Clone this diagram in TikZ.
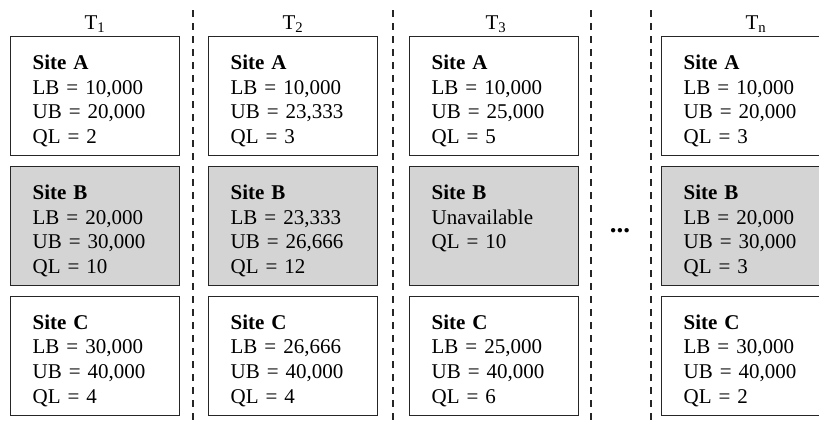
\documentclass[tikz,border=0pt]{standalone}
\usepackage{fontspec}
\setmainfont{Liberation Serif}
\usepackage{tikz}
\usetikzlibrary{positioning}
\newcommand{\sitefont}{\fontsize{21}{24.6}\selectfont}
\tikzstyle{site}  = [draw=black!85, line width=1.3pt, minimum width=169pt, text width=125pt, inner xsep=22pt, inner ysep=12pt, text height=21pt, text depth=74pt, align=left, font=\sitefont]
\tikzstyle{busy}  = [site, fill=black!17]
\tikzstyle{slot}  = [anchor=base, font=\sitefont]
\tikzstyle{sep}   = [draw=black!85, line width=1.1pt, dash pattern=on 7pt off 6pt]

\begin{document}
\begin{tikzpicture}[x=1pt,y=-1pt,node distance=9.5pt]
		\clip (0,0) rectangle (819,421);
		% time slots
		\node[slot] (t1) at (95,29) {T\textsubscript{1}};
		\node[slot] (t2) at (293,29) {T\textsubscript{2}};
		\node[slot] (t3) at (496,29) {T\textsubscript{3}};
		\node[slot] (tn) at (756,29) {T\textsubscript{n}};
		% T1
		\node[site, anchor=north west] (a1) at (10,36) {\textbf{Site A}\\ LB = 10,000\\ UB = 20,000\\ QL = 2};
		\node[busy, below=of a1] (b1) {\textbf{Site B}\\ LB = 20,000\\ UB = 30,000\\ QL = 10};
		\node[site, below=of b1] (c1) {\textbf{Site C}\\ LB = 30,000\\ UB = 40,000\\ QL = 4};
		% T2
		\node[site, anchor=north west] (a2) at (208,36) {\textbf{Site A}\\ LB = 10,000\\ UB = 23,333\\ QL = 3};
		\node[busy, below=of a2] (b2) {\textbf{Site B}\\ LB = 23,333\\ UB = 26,666\\ QL = 12};
		\node[site, below=of b2] (c2) {\textbf{Site C}\\ LB = 26,666\\ UB = 40,000\\ QL = 4};
		% T3
		\node[site, anchor=north west] (a3) at (409,36) {\textbf{Site A}\\ LB = 10,000\\ UB = 25,000\\ QL = 5};
		\node[busy, below=of a3] (b3) {\textbf{Site B}\\ Unavailable\\ QL = 10};
		\node[site, below=of b3] (c3) {\textbf{Site C}\\ LB = 25,000\\ UB = 40,000\\ QL = 6};
		% Tn
		\node[site, anchor=north west] (an) at (661,36) {\textbf{Site A}\\ LB = 10,000\\ UB = 20,000\\ QL = 3};
		\node[busy, below=of an] (bn) {\textbf{Site B}\\ LB = 20,000\\ UB = 30,000\\ QL = 3};
		\node[site, below=of bn] (cn) {\textbf{Site C}\\ LB = 30,000\\ UB = 40,000\\ QL = 2};
		\node[font=\fontsize{27}{30}\selectfont\bfseries] (dots) at (620,231) {...};
		% separators
		\draw[sep] (193,10) -- (193,421);
		\draw[sep] (393,10) -- (393,421);
		\draw[sep] (591,10) -- (591,421);
		\draw[sep] (651,10) -- (651,421);
	\end{tikzpicture}
\end{document}
